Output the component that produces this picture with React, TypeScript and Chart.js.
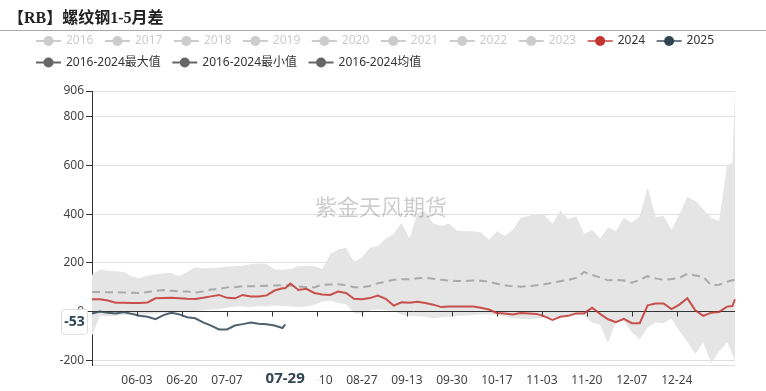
import React, { useEffect, useRef } from 'react';
import { Chart, registerables } from 'chart.js';

Chart.register(...registerables);

const FONT = '"Noto Sans", "Noto Sans CJK SC", sans-serif';

// ---- categories: every calendar day 05-17 .. 01-15 ----
function buildDays(): string[] {
  const out: string[] = [];
  const start = Date.UTC(2024, 4, 17);
  for (let i = 0; i < 244; i++) {
    const d = new Date(start + i * 86400000);
    const mm = String(d.getUTCMonth() + 1).padStart(2, '0');
    const dd = String(d.getUTCDate()).padStart(2, '0');
    out.push(`${mm}-${dd}`);
  }
  return out;
}
const days = buildDays();

const tickDates = ['06-03', '06-20', '07-07', '07-24', '08-10', '08-27', '09-13', '09-30', '10-17', '11-03', '11-20', '12-07', '12-24'];
const yTicks = [-220, -200, 0, 200, 400, 600, 800, 906];
const Y_MIN = -220;
const Y_MAX = 906;

const sampleDates = [
  '05-17', '05-20', '05-23', '05-26', '05-29', '06-01', '06-04', '06-07', '06-10', '06-13',
  '06-16', '06-19', '06-22', '06-25', '06-28', '07-01', '07-04', '07-07', '07-10', '07-13',
  '07-16', '07-19', '07-22', '07-25', '07-28', '07-29', '07-31', '08-03', '08-06', '08-09',
  '08-12', '08-15', '08-18', '08-21', '08-24', '08-27', '08-30', '09-02', '09-05', '09-08',
  '09-11', '09-14', '09-17', '09-20', '09-23', '09-26', '09-29', '10-02', '10-05', '10-08',
  '10-11', '10-14', '10-17', '10-20', '10-23', '10-26', '10-29', '11-01', '11-04', '11-07',
  '11-10', '11-13', '11-16', '11-19', '11-22', '11-25', '11-28', '12-01', '12-04', '12-07',
  '12-10', '12-13', '12-16', '12-19', '12-22', '12-25', '12-28', '12-31', '01-03', '01-06',
  '01-09', '01-12', '01-14', '01-15',
];

const maxValues = [
  151, 172, 167, 165, 162, 145, 136, 148, 152, 157,
  158, 145, 162, 182, 178, 178, 180, 185, 186, 188,
  195, 197, 196, 172, 170, 172, 175, 186, 188, 186,
  175, 235, 255, 262, 205, 222, 262, 268, 300, 318,
  364, 300, 405, 412, 360, 352, 360, 332, 330, 330,
  325, 295, 330, 310, 335, 385, 392, 404, 395, 360,
  415, 380, 390, 318, 335, 300, 345, 330, 385, 365,
  390, 510, 388, 392, 335, 400, 470, 455, 420, 385,
  372, 602, 610, 906,
];

const minValues = [
  -100, -18, -20, -18, -15, -12, -12, -10, -8, -5,
  -8, -3, 0, 2, 5, 8, 10, 15, 20, 20,
  18, 22, 20, 25, 22, 22, 20, 18, 20, 28,
  40, 45, 35, 30, -5, -10, 5, 8, 5, 3,
  -15, -18, -20, -22, -28, -25, -22, -18, -18, -15,
  -12, -12, -15, -20, -28, -30, -32, -30, -25, -25,
  -20, -18, -15, -18, -45, -55, -130, -43, -38, -85,
  -115, -65, -45, -48, -30, -80, -124, -175, -128, -212,
  -165, -124, -175, -200,
];

const meanValues = [
  80, 80, 79, 79, 78, 77, 76, 80, 84, 88,
  85, 82, 82, 78, 82, 90, 92, 99, 100, 104,
  104, 104, 106, 107, 108, 108, 107, 103, 100, 99,
  110, 111, 112, 108, 100, 100, 105, 116, 122, 130,
  132, 132, 136, 138, 134, 130, 127, 125, 125, 127,
  126, 122, 114, 108, 103, 102, 104, 108, 112, 118,
  124, 130, 138, 162, 150, 140, 128, 130, 127, 118,
  130, 145, 136, 130, 133, 138, 155, 148, 142, 108,
  110, 122, 128, 130,
];

const values2024 = [
  50, 50, 45, 36, 36, 35, 35, 37, 54, 55,
  56, 54, 52, 51, 56, 62, 68, 56, 54, 68,
  62, 62, 66, 86, 95, 95, 115, 88, 93, 76,
  70, 68, 82, 76, 52, 50, 55, 65, 52, 24,
  38, 36, 40, 35, 28, 18, 20, 20, 20, 20,
  15, 8, -6, -8, -12, -6, -8, -10, -20, -35,
  -22, -18, -8, -7, 15, -10, -32, -44, -30, -48,
  -48, 25, 33, 33, 10, 28, 54, 5, -18, -5,
  -2, 20, 22, 50,
];

const values2025 = [
  -8, 0, -5, -8, -2, -10, -18, -22, -32, -15,
  -5, -12, -24, -28, -45, -58, -74, -74, -58, -52,
  -45, -50, -53, -58, -68, -53,
];

const legendRow1 = ['2016', '2017', '2018', '2019', '2020', '2021', '2022', '2023', '2024', '2025'];
const legendRow1Colors = ['#cccccc', '#cccccc', '#cccccc', '#cccccc', '#cccccc', '#cccccc', '#cccccc', '#cccccc', '#c23531', '#2f4554'];
const legendRow2 = ['2016-2024最大值', '2016-2024最小值', '2016-2024均值'];
const legendRow2Colors = ['#666666', '#666666', '#666666'];

const pointerDate = '07-29';
const pointerValue = -53;
const watermark = '紫金天风期货';

function toPoints(values: number[]) {
  return values.map((v, i) => ({ x: sampleDates[i], y: v }));
}

const decorPlugin = {
  id: 'decor',
  afterDatasetDraw(chart: any, args: any) {
    if (args.index !== 3) return;
    const { ctx, chartArea } = chart;
    const xs = chart.scales.x;
    const ys = chart.scales.y;
    ctx.save();
    // watermark
    ctx.font = '22px "Noto Sans CJK SC", sans-serif';
    ctx.fillStyle = 'rgba(0,0,0,0.2)';
    ctx.textAlign = 'center';
    ctx.textBaseline = 'middle';
    ctx.fillText(watermark, 381, 207);
    // zero axis line with ticks
    const y0 = Math.round(ys.getPixelForValue(0)) + 0.5;
    ctx.strokeStyle = '#333';
    ctx.lineWidth = 1;
    ctx.beginPath();
    ctx.moveTo(chartArea.left, y0);
    ctx.lineTo(chartArea.right, y0);
    for (const t of xs.ticks) {
      const x = Math.round(xs.getPixelForValue(t.value)) + 0.5;
      ctx.moveTo(x, y0);
      ctx.lineTo(x, y0 + 5);
    }
    ctx.stroke();
    ctx.restore();
  },
  afterDraw(chart: any) {
    const { ctx } = chart;
    const xs = chart.scales.x;
    const ys = chart.scales.y;
    ctx.save();
    // legend
    ctx.font = `12px ${FONT}`;
    ctx.textBaseline = 'middle';
    ctx.textAlign = 'left';
    const drawRow = (names: string[], colors: string[], y: number) => {
      let x = 36;
      names.forEach((name, i) => {
        const c = colors[i];
        const active = c !== '#cccccc';
        ctx.strokeStyle = c;
        ctx.globalAlpha = active && c !== '#666666' ? 0.7 : 1;
        ctx.lineWidth = 2;
        ctx.beginPath();
        ctx.moveTo(x, y);
        ctx.lineTo(x + 25, y);
        ctx.stroke();
        ctx.globalAlpha = 1;
        ctx.fillStyle = c;
        ctx.beginPath();
        ctx.arc(x + 12.5, y, 5, 0, Math.PI * 2);
        ctx.fill();
        ctx.fillStyle = active ? '#333' : '#cccccc';
        ctx.fillText(name, x + 30, y);
        x += 30 + ctx.measureText(name).width + 11.5;
      });
    };
    drawRow(legendRow1, legendRow1Colors, 41);
    drawRow(legendRow2, legendRow2Colors, 62.5);

    // axis pointer labels
    const px = xs.getPixelForValue(days.indexOf(pointerDate));
    ctx.fillStyle = '#fff';
    ctx.fillRect(px - 33, 369, 66, 20);
    ctx.font = `bold 15px ${FONT}`;
    ctx.fillStyle = '#2f4554';
    ctx.textAlign = 'center';
    ctx.fillText(pointerDate, px, 378.5);

    const py = ys.getPixelForValue(pointerValue) - 3;
    ctx.beginPath();
    const bx = 61.5, bw = 26, by = py - 12, bh = 25;
    ctx.roundRect(bx, by, bw, bh, 3);
    ctx.fillStyle = '#fff';
    ctx.fill();
    ctx.strokeStyle = '#dddddd';
    ctx.lineWidth = 1;
    ctx.stroke();
    ctx.font = `bold 14px ${FONT}`;
    ctx.fillStyle = '#2f4554';
    ctx.fillText(String(pointerValue), bx + bw / 2, py + 0.5);
    ctx.restore();
  },
};

export default function App() {
  const ref = useRef<HTMLCanvasElement>(null);

  useEffect(() => {
    document.body.style.margin = '0';
    const canvas = ref.current!;
    const tickIdx = tickDates.map((d) => days.indexOf(d));
    const chart = new Chart(canvas, {
      type: 'line',
      data: {
        labels: days,
        datasets: [
          {
            label: '2025',
            data: toPoints(values2025),
            borderColor: 'rgba(47,69,84,0.85)',
            borderWidth: 2,
            pointRadius: 0,
            fill: false,
          },
          {
            label: '2024',
            data: toPoints(values2024),
            borderColor: 'rgba(194,53,49,0.85)',
            borderWidth: 2,
            pointRadius: 0,
            fill: false,
          },
          {
            label: '2016-2024均值',
            data: toPoints(meanValues),
            borderColor: '#aaaaaa',
            borderWidth: 2,
            borderDash: [8, 5],
            pointRadius: 0,
            fill: false,
          },
          {
            label: '2016-2024最大值',
            data: toPoints(maxValues),
            borderColor: 'rgba(0,0,0,0)',
            borderWidth: 0,
            backgroundColor: '#e5e5e5',
            pointRadius: 0,
            fill: '+1',
          },
          {
            label: '2016-2024最小值',
            data: toPoints(minValues),
            borderColor: 'rgba(0,0,0,0)',
            borderWidth: 0,
            pointRadius: 0,
            fill: false,
          },
        ],
      },
      options: {
        responsive: false,
        animation: false,
        devicePixelRatio: 1,
        layout: { padding: { top: 91, right: 31, left: 0, bottom: 0 } },
        elements: { line: { tension: 0 }, point: { radius: 0 } },
        plugins: {
          legend: { display: false },
          tooltip: { enabled: false },
          title: { display: false },
        },
        scales: {
          x: {
            type: 'category',
            offset: false,
            grid: { display: false },
            border: { display: false },
            ticks: {
              autoSkip: false,
              maxRotation: 0,
              minRotation: 0,
              padding: 0,
              color: '#444',
              font: { family: FONT, size: 12 },
            },
            afterBuildTicks: (s: any) => {
              s.ticks = tickIdx.map((v) => ({ value: v }));
            },
            afterFit: (s: any) => {
              s.height = 26;
            },
          },
          y: {
            min: Y_MIN,
            max: Y_MAX,
            border: { display: true, color: '#333', width: 1 },
            grid: {
              color: (c: any) => (c.tick && c.tick.value === 0 ? 'rgba(0,0,0,0)' : '#e0e0e0'),
              tickColor: (c: any) => (c.tick && c.tick.value === Y_MIN ? 'rgba(0,0,0,0)' : '#333'),
              tickLength: 6,
              lineWidth: 1,
            },
            ticks: {
              padding: 2,
              color: '#444',
              font: { family: FONT, size: 12 },
              callback: (v: any) => (v === Y_MIN ? '' : String(v)),
            },
            afterBuildTicks: (s: any) => {
              s.ticks = yTicks.map((v) => ({ value: v }));
            },
            afterFit: (s: any) => {
              s.width = 92;
            },
          },
        },
      },
      plugins: [decorPlugin],
    } as any);
    return () => chart.destroy();
  }, []);

  return (
    <div style={{ position: 'relative', width: 766, height: 391, background: '#fff', overflow: 'hidden' }}>
      <canvas ref={ref} width={766} height={391} style={{ position: 'absolute', left: 0, top: 0, width: 766, height: 391 }} />
      <div
        style={{
          position: 'absolute',
          left: 8,
          top: 4,
          lineHeight: '22px',
          font: 'bold 16px "Liberation Serif", "Noto Sans CJK SC", serif',
          color: '#222',
          whiteSpace: 'nowrap',
        }}
      >
        【RB】螺纹钢1-5月差
      </div>
      <div style={{ position: 'absolute', left: 0, top: 30, width: 766, height: 1, background: '#aaaaaa' }} />
    </div>
  );
}
